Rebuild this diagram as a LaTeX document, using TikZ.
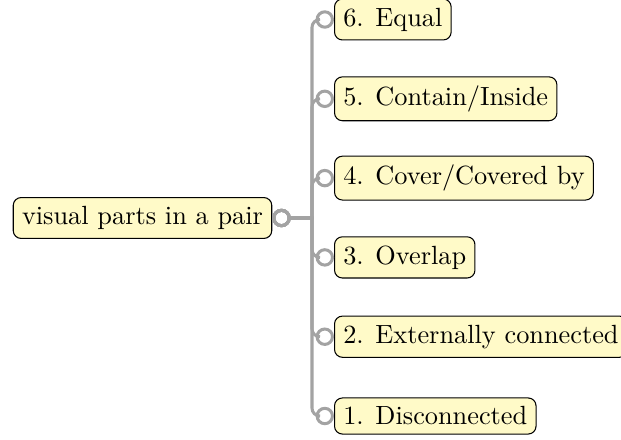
\documentclass[tikz,border=0pt]{standalone}
\usetikzlibrary{arrows.meta}
\definecolor{boxfill}{RGB}{255,250,200}
\definecolor{linegray}{RGB}{163,163,163}
\begin{document}
\begin{tikzpicture}[x=0.38pt,y=-0.38pt,
  topic/.style={draw=black,fill=boxfill,rounded corners=3pt,line width=0.4pt,inner sep=0.3333em},
  conn/.style={draw=linegray,line width=1.15pt,
    {Circle[open,length=7pt,width=7pt,line width=1.15pt]}-{Circle[open,length=7pt,width=7pt,line width=1.15pt]}}]
\useasboundingbox (0,0) rectangle (621,439);
\node[topic] (root) at (142.5,218) {visual parts in a pair};
\coordinate (J) at (312,218);
\node[topic,anchor=west] (c6) at (334,19.5) {6. Equal};
\node[topic,anchor=west] (c5) at (334,98.8) {5. Contain/Inside};
\node[topic,anchor=west] (c4) at (334,178.1) {4. Cover/Covered by};
\node[topic,anchor=west] (c3) at (334,257.4) {3. Overlap};
\node[topic,anchor=west] (c2) at (334,336.7) {2. Externally connected};
\node[topic,anchor=west] (c1) at (334,416) {1. Disconnected};
\foreach \c in {c1,c2,c3,c4,c5,c6}{
  \draw[conn] (root.east) -- (J) [rounded corners=3pt] |- (\c.west);
}
\end{tikzpicture}
\end{document}
